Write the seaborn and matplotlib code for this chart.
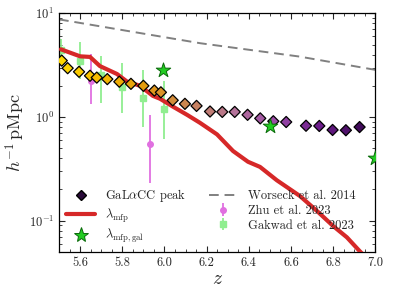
import matplotlib
matplotlib.use("Agg")
import matplotlib.pyplot as plt
import seaborn as sns
import numpy as np
import pandas as pd
from matplotlib.colors import LinearSegmentedColormap
from matplotlib.lines import Line2D
from matplotlib.ticker import AutoMinorLocator

# GaLaCC peak positions
peak_z = [5.513, 5.541, 5.595, 5.647, 5.679, 5.729, 5.786, 5.841, 5.900, 5.952, 5.983,
          6.039, 6.097, 6.152, 6.216, 6.274, 6.333, 6.394, 6.454, 6.516, 6.577,
          6.671, 6.734, 6.797, 6.860, 6.925]
peak_val = [3.50, 2.96, 2.73, 2.50, 2.40, 2.32, 2.19, 2.09, 2.00, 1.80, 1.73,
            1.45, 1.34, 1.28, 1.13, 1.12, 1.12, 1.05, 0.97, 0.91, 0.895,
            0.824, 0.82, 0.75, 0.745, 0.80]

# lambda_mfp curve
mfp_z = [5.509, 5.60, 5.647, 5.694, 5.775, 5.822, 5.884, 5.945, 5.979, 6.040, 6.107,
         6.168, 6.249, 6.325, 6.396, 6.453, 6.533, 6.642, 6.723, 6.799, 6.865, 6.917, 6.95]
mfp_val = [4.5, 3.85, 3.8, 3.1, 2.6, 2.2, 2.0, 1.6, 1.5, 1.26, 1.05,
           0.88, 0.68, 0.47, 0.37, 0.33, 0.245, 0.173, 0.124, 0.089, 0.069, 0.053, 0.045]

# lambda_mfp,gal
gal_z = [5.994, 6.50, 7.0]
gal_val = [2.85, 0.81, 0.40]

# Worseck et al. 2014
wor_z = [5.5, 6.17, 6.64, 7.0]
wor_val = [8.75, 5.15, 3.83, 2.85]

# Zhu et al. 2023
zhu_z = [5.65, 5.931]
zhu_val = [2.23, 0.553]
zhu_lo = [1.34, 0.232]
zhu_hi = [4.07, 1.05]

# Gaikwad et al. 2023
gak_z = [5.51, 5.60, 5.70, 5.80, 5.90, 6.00]
gak_val = [4.43, 3.50, 2.55, 1.94, 1.52, 1.19]
gak_lo = [3.6, 2.33, 1.38, 1.09, 0.80, 0.62]
gak_hi = [5.6, 5.26, 3.91, 3.30, 2.85, 2.25]

sns.set_theme(style="ticks")
plt.rcParams["font.family"] = "serif"
plt.rcParams["font.serif"] = ["cmr10", "DejaVu Serif"]
plt.rcParams["mathtext.fontset"] = "cm"
plt.rcParams["axes.unicode_minus"] = False
plt.rcParams["axes.formatter.use_mathtext"] = True

fig = plt.figure(figsize=(3.96, 2.97), dpi=100)
ax = fig.add_axes([0.149, 0.152, 0.799, 0.803])

zhu_err = [np.array(zhu_val) - np.array(zhu_lo), np.array(zhu_hi) - np.array(zhu_val)]
gak_err = [np.array(gak_val) - np.array(gak_lo), np.array(gak_hi) - np.array(gak_val)]
zhu_eb = ax.errorbar(zhu_z, zhu_val, yerr=zhu_err, fmt="o", color="#e070e0", ms=4, lw=1.3,
                     capsize=0, zorder=1)
gak_eb = ax.errorbar(gak_z, gak_val, yerr=gak_err, fmt="s", color="#90ee90", ms=4.5, lw=1.3,
                     capsize=0, zorder=1)

sns.lineplot(x=wor_z, y=wor_val, ax=ax, color="grey", lw=1.4, ls=(0, (5, 3)), zorder=2)
sns.lineplot(x=mfp_z, y=mfp_val, ax=ax, color="#d62828", lw=3, zorder=3)

cmap = LinearSegmentedColormap.from_list(
    "peak", ["#ffd900", "#f4b800", "#e39a10", "#c98458", "#b5749a", "#9a4aa8",
             "#6a1b8a", "#3d0a55"])
peaks = pd.DataFrame({"z": peak_z, "v": peak_val})
sns.scatterplot(data=peaks, x="z", y="v", hue="z", palette=cmap, hue_norm=(5.5, 6.95),
                marker="D", s=32, edgecolor="black", linewidth=0.9, legend=False,
                ax=ax, zorder=4)
sns.scatterplot(x=gal_z, y=gal_val, ax=ax, marker="*", s=120, color="#22cc22",
                edgecolor="#0a6a0a", linewidth=0.7, zorder=5)

ax.set_yscale("log")
ax.set_xlim(5.5, 7.0)
ax.set_ylim(0.05, 10)
ax.xaxis.set_minor_locator(AutoMinorLocator(4))
ax.tick_params(which="both", direction="in", top=True, right=True, labelsize=9)
ax.tick_params(which="major", length=4, width=0.8)
ax.tick_params(which="minor", length=2, width=0.6)
ax.set_xticks([5.6, 5.8, 6.0, 6.2, 6.4, 6.6, 6.8, 7.0])
ax.set_xticklabels(["5.6", "5.8", "6.0", "6.2", "6.4", "6.6", "6.8", "7.0"])
ax.set_xlabel(r"$z$", fontsize=14, labelpad=1)
ax.set_ylabel(r"$h^{-1}\,\mathrm{pMpc}$", fontsize=13, labelpad=1)

handles = [
    Line2D([], [], ls="", marker="D", ms=5.5, mfc="#2a0a3a", mec="black"),
    Line2D([], [], color="#d62828", lw=3),
    Line2D([], [], ls="", marker="*", ms=11, mfc="#22cc22", mec="#0a6a0a", mew=0.7),
    Line2D([], [], color="grey", lw=1.4, ls=(0, (5, 3))),
    zhu_eb,
    gak_eb,
]
labels = [r"GaL$\alpha$CC peak", r"$\lambda_{\rm mfp}$", r"$\lambda_{\rm mfp,gal}$",
          "Worseck et al. 2014", "Zhu et al. 2023", "Gakwad et al. 2023"]
ax.legend(handles, labels, ncol=2, loc="lower center", bbox_to_anchor=(0.48, -0.02),
          frameon=False, fontsize=9, handlelength=2.3, columnspacing=1.8,
          labelspacing=0.2)

for sp in ax.spines.values():
    sp.set_linewidth(0.9)
    sp.set_color("black")

fig.savefig("out.png", dpi=100)
